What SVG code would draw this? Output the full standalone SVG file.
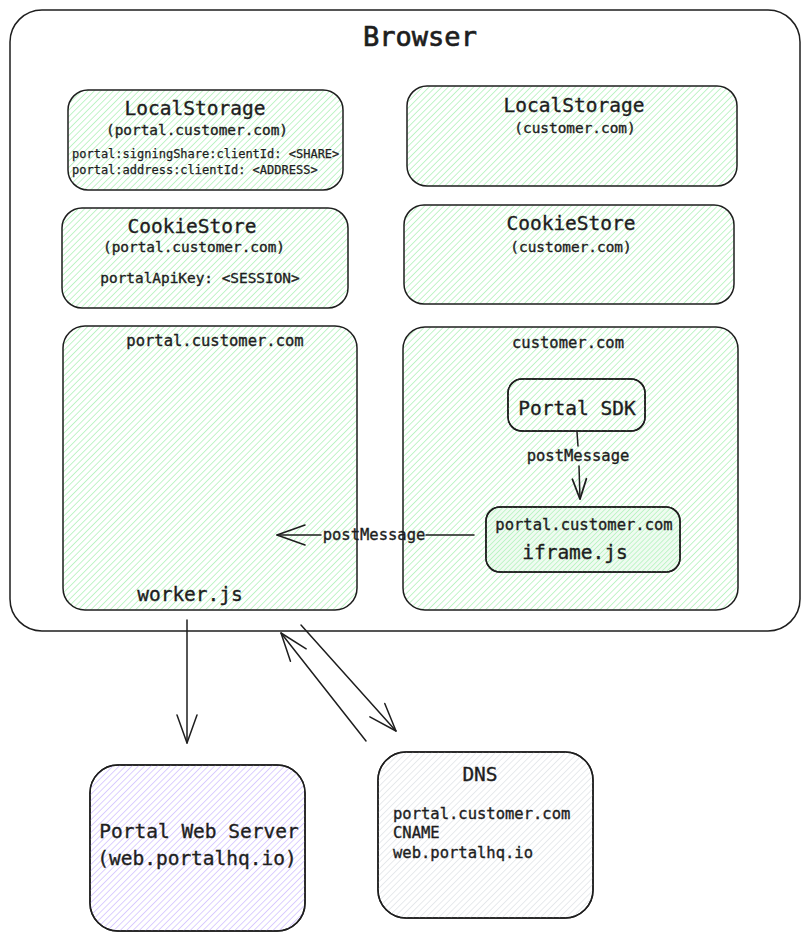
<svg xmlns="http://www.w3.org/2000/svg" width="810" height="939" viewBox="0 0 810 939">
<defs>
<pattern id="hg" width="4.5" height="4.5" patternUnits="userSpaceOnUse" patternTransform="rotate(45)">
<line x1="0" y1="0" x2="0" y2="4.5" stroke="#b2f2bb" stroke-width="1.6"/>
</pattern>
<pattern id="hg2" width="3.5" height="3.5" patternUnits="userSpaceOnUse" patternTransform="rotate(45)">
<line x1="0" y1="0" x2="0" y2="3.5" stroke="#b2f2bb" stroke-width="1.5"/>
</pattern>
<pattern id="hp" width="4.5" height="4.5" patternUnits="userSpaceOnUse" patternTransform="rotate(45)">
<line x1="0" y1="0" x2="0" y2="4.5" stroke="#d0bfff" stroke-width="1.5"/>
</pattern>
<pattern id="hd" width="4.5" height="4.5" patternUnits="userSpaceOnUse" patternTransform="rotate(45)">
<line x1="0" y1="0" x2="0" y2="4.5" stroke="#dee2e6" stroke-width="1.4"/>
</pattern>
<marker id="ah" markerWidth="40" markerHeight="30" refX="0" refY="0" viewBox="-30 -15 40 30" orient="auto" markerUnits="userSpaceOnUse">
<path d="M-28,-10 L0,0 L-28,10" fill="none" stroke="#1e1e1e" stroke-width="1.5" stroke-linecap="round" stroke-linejoin="round"/>
</marker>
<marker id="ahs" markerWidth="30" markerHeight="20" refX="0" refY="0" viewBox="-24 -10 30 20" orient="auto" markerUnits="userSpaceOnUse">
<path d="M-20,-7 L0,0 L-20,7" fill="none" stroke="#1e1e1e" stroke-width="1.8" stroke-linecap="round" stroke-linejoin="round"/>
</marker>
</defs>
<style>
.box{stroke:#1e1e1e;stroke-width:1.5;}
.g{fill:url(#hg);}
.t{font-family:"DejaVu Sans Mono","Liberation Mono",monospace;fill:#1e1e1e;text-anchor:middle;stroke:#1e1e1e;stroke-width:0.35;}
.l{text-anchor:start;}
.f27{font-size:27px;stroke-width:0.7;}
.f19{font-size:19.5px;}
.f15{font-size:15.5px;}
.f14{font-size:14.4px;}
.f12{font-size:12px;stroke-width:0.25;}
.c{fill:none;stroke:#1e1e1e;stroke-width:1.5;stroke-linecap:round;}
</style>
<rect width="810" height="939" fill="#ffffff"/>

<g id="browser">
<rect class="box" x="10" y="10" width="790" height="621" rx="32" fill="#ffffff"/>
<text class="t f27" x="420" y="46">Browser</text>
</g>

<g id="localstorage-portal">
<rect class="box g" x="68" y="90" width="275" height="100" rx="20"/>
<text class="t f19" x="195" y="115">LocalStorage</text>
<text class="t f14" x="197" y="135">(portal.customer.com)</text>
<text class="t f12 l" x="72" y="158">portal:signingShare:clientId: &lt;SHARE&gt;</text>
<text class="t f12 l" x="72" y="174">portal:address:clientId: &lt;ADDRESS&gt;</text>
</g>

<g id="localstorage-customer">
<rect class="box g" x="407" y="86" width="330" height="100" rx="20"/>
<text class="t f19" x="574" y="112">LocalStorage</text>
<text class="t f14" x="575" y="133">(customer.com)</text>
</g>

<g id="cookiestore-portal">
<rect class="box g" x="62" y="208" width="286" height="100" rx="20"/>
<text class="t f19" x="192" y="233">CookieStore</text>
<text class="t f14" x="194" y="252">(portal.customer.com)</text>
<text class="t f14" x="200" y="283">portalApiKey: &lt;SESSION&gt;</text>
</g>

<g id="cookiestore-customer">
<rect class="box g" x="404" y="205" width="330" height="99" rx="20"/>
<text class="t f19" x="571" y="230">CookieStore</text>
<text class="t f14" x="571" y="252">(customer.com)</text>
</g>

<g id="portal-frame">
<rect class="box g" x="63" y="326" width="294" height="284" rx="22"/>
<text class="t f15" x="215" y="346">portal.customer.com</text>
<text class="t f19" x="190" y="601">worker.js</text>
</g>

<g id="customer-frame">
<rect class="box g" x="403" y="327" width="335" height="283" rx="22"/>
<text class="t f15" x="568" y="348">customer.com</text>
</g>

<g id="portal-sdk">
<rect class="box" x="508" y="379" width="137" height="52" rx="14" fill="#ffffff"/>
<rect x="508" y="379" width="137" height="52" rx="14" class="g"/>
<rect class="box" x="508" y="379" width="137" height="52" rx="14" fill="none"/>
<text class="t f19" x="577" y="415">Portal SDK</text>
</g>

<g id="iframe">
<rect class="box" x="486" y="507" width="194" height="65" rx="14" fill="#effbf1"/>
<rect x="486" y="507" width="194" height="65" rx="14" fill="url(#hg2)"/>
<rect class="box" x="486" y="507" width="194" height="65" rx="14" fill="none"/>
<text class="t f15" x="584" y="530">portal.customer.com</text>
<text class="t f19" x="575" y="559">iframe.js</text>
</g>

<g id="web-server">
<rect class="box" x="90" y="765" width="215" height="166" rx="28" fill="#ffffff"/>
<rect x="90" y="765" width="215" height="166" rx="28" fill="url(#hp)"/>
<rect class="box" x="90" y="765" width="215" height="166" rx="28" fill="none"/>
<text class="t f19" x="199" y="838">Portal Web Server</text>
<text class="t f19" x="197" y="865">(web.portalhq.io)</text>
</g>

<g id="dns">
<rect class="box" x="378" y="752" width="215" height="166" rx="28" fill="#ffffff"/>
<rect x="378" y="752" width="215" height="166" rx="28" fill="url(#hd)"/>
<rect class="box" x="378" y="752" width="215" height="166" rx="28" fill="none"/>
<text class="t f19" x="480" y="781">DNS</text>
<text class="t f15 l" x="393" y="819">portal.customer.com</text>
<text class="t f15 l" x="393" y="838">CNAME</text>
<text class="t f15 l" x="393" y="858">web.portalhq.io</text>
</g>

<g id="connectors">
<line class="c" x1="577" y1="432" x2="578" y2="446"/>
<line class="c" x1="579" y1="466" x2="580" y2="499" marker-end="url(#ahs)"/>
<text class="t f15" x="578" y="461">postMessage</text>
<line class="c" x1="474" y1="535" x2="426" y2="535"/>
<line class="c" x1="321" y1="535" x2="277" y2="535" marker-end="url(#ah)"/>
<text class="t f15" x="374" y="540">postMessage</text>
<line class="c" x1="187" y1="620" x2="187" y2="743" marker-end="url(#ah)"/>
<line class="c" x1="366" y1="741" x2="281" y2="633" marker-end="url(#ah)"/>
<line class="c" x1="301" y1="625" x2="396" y2="731" marker-end="url(#ah)"/>
</g>
</svg>
